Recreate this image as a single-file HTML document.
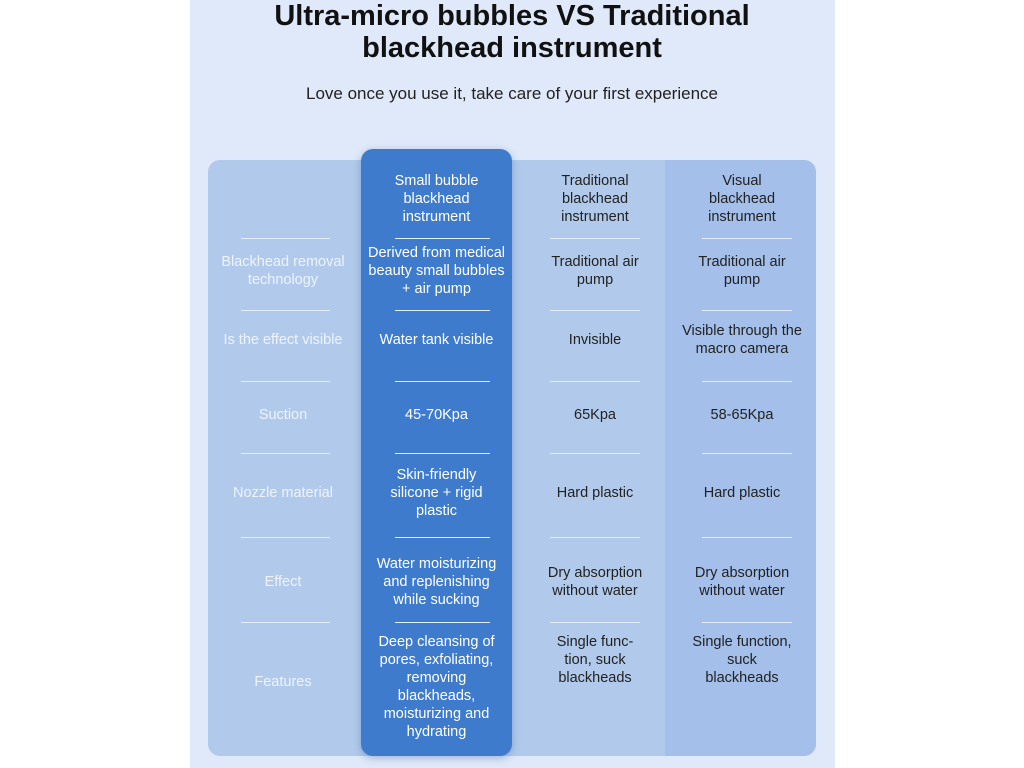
<!DOCTYPE html>
<html><head><style>
body{margin:0;width:1024px;height:768px;background:#fff;font-family:"Liberation Sans",sans-serif;position:relative;overflow:hidden}
.panel{position:absolute;left:190px;top:0;width:645px;height:768px;background:#dfe9f9}
.t{position:absolute;left:0;width:1024px;text-align:center;color:#111}
.tbl{position:absolute;left:208px;top:160px;width:608px;height:596px;background:#b1caeb;border-radius:12px;overflow:hidden}
.c4{position:absolute;left:457px;top:0;width:151px;height:596px;background:#a3bfea}
.blue{position:absolute;left:361px;top:149px;width:151px;height:607px;background:#3e7bcc;border-radius:12px;box-shadow:0 2px 8px rgba(40,80,150,.35)}
.cell{position:absolute;display:flex;align-items:center;justify-content:center;text-align:center;font-size:14.5px;line-height:18px;height:120px;margin-top:-60px}
.l{position:absolute;height:1px;background:#e4edf9}
</style></head><body>
<div class="panel"></div>
<div class="t" style="top:0;font-size:29px;font-weight:bold;line-height:32px">Ultra-micro bubbles VS Traditional<br>blackhead instrument</div>
<div class="t" style="top:84px;font-size:17px;color:#222">Love once you use it, take care of your first experience</div>
<div class="tbl"><div class="c4"></div></div>
<div class="blue"></div>
<div id="g"></div>
<script>
var cols=[[208,150,'#eef3fb'],[361,151,'#fff'],[520,150,'#222'],[667,150,'#222']];
var ys=[199,271,340,415,493,582,687];
var data=[
["","Blackhead removal<br>technology","Is the effect visible","Suction","Nozzle material","Effect","Features"],
["Small bubble<br>blackhead<br>instrument","Derived from medical<br>beauty small bubbles<br>+ air pump","Water tank visible","45-70Kpa","Skin-friendly<br>silicone + rigid<br>plastic","Water moisturizing<br>and replenishing<br>while sucking","Deep cleansing of<br>pores, exfoliating,<br>removing<br>blackheads,<br>moisturizing and<br>hydrating"],
["Traditional<br>blackhead<br>instrument","Traditional air<br>pump","Invisible","65Kpa","Hard plastic","Dry absorption<br>without water","Single func-<br>tion, suck<br>blackheads"],
["Visual<br>blackhead<br>instrument","Traditional air<br>pump","Visible through the<br>macro camera","58-65Kpa","Hard plastic","Dry absorption<br>without water","Single function,<br>suck<br>blackheads"]];
var lx=[[241,89],[395,95],[550,90],[702,90]];
var ly=[238,310,381,453,537,622];
var h='';
for(var c=0;c<4;c++){for(var r=0;r<7;r++){var y=ys[r];if(c==0&&r==6)y=682;if(c>1&&r==6)y=660;
h+='<div class="cell" style="left:'+cols[c][0]+'px;width:'+cols[c][1]+'px;top:'+y+'px;color:'+cols[c][2]+'">'+data[c][r]+'</div>';}
for(var i=0;i<6;i++)h+='<div class="l" style="left:'+lx[c][0]+'px;width:'+lx[c][1]+'px;top:'+ly[i]+'px"></div>';}
document.getElementById('g').innerHTML=h;
</script>
</body></html>
